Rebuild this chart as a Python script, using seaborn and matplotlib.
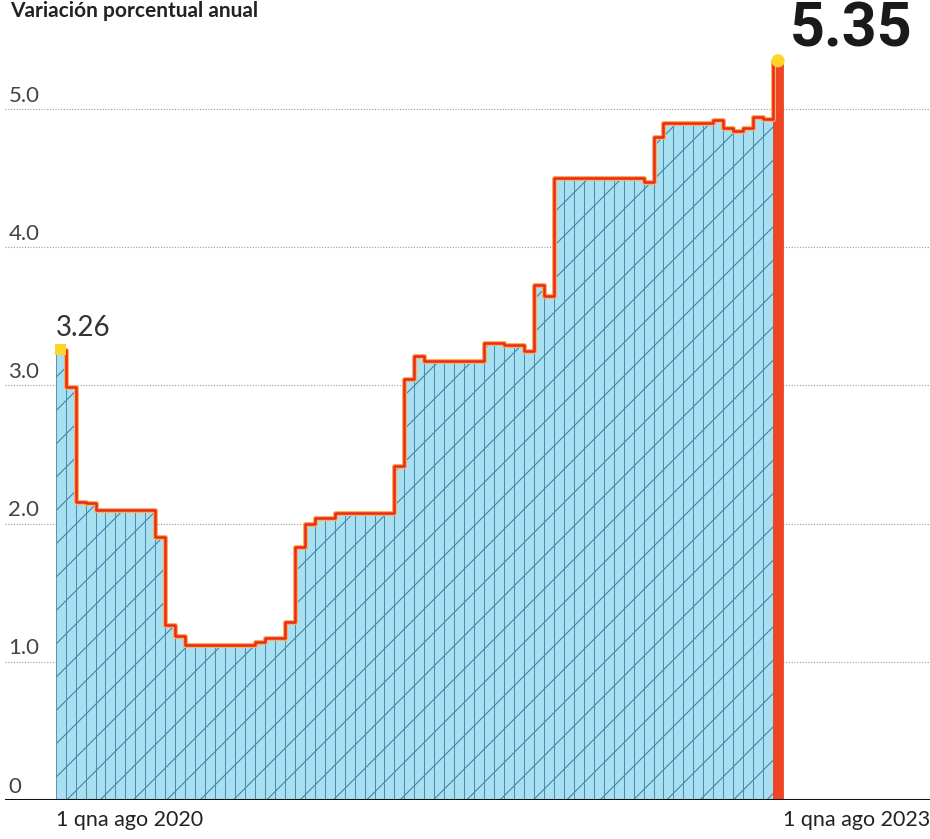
import numpy as np
import pandas as pd
import seaborn as sns
import matplotlib.pyplot as plt

# inflacion anual, quincenas desde 1 qna ago 2020 hasta 1 qna ago 2023
values = [3.26, 2.99, 2.16, 2.15, 2.10, 2.10, 2.10, 2.10, 2.10, 2.10,
          1.90, 1.27, 1.19, 1.12, 1.12, 1.12, 1.12, 1.12, 1.12, 1.12,
          1.14, 1.17, 1.17, 1.29, 1.83, 2.00, 2.04, 2.04, 2.08, 2.08,
          2.08, 2.08, 2.08, 2.08, 2.42, 3.05, 3.21, 3.18, 3.18, 3.18,
          3.18, 3.18, 3.18, 3.31, 3.31, 3.29, 3.29, 3.25, 3.73, 3.65,
          4.50, 4.50, 4.50, 4.50, 4.50, 4.50, 4.50, 4.50, 4.50, 4.47,
          4.80, 4.90, 4.90, 4.90, 4.90, 4.90, 4.92, 4.86, 4.84, 4.86,
          4.94, 4.93, 5.35]
yticks = [0, 1.0, 2.0, 3.0, 4.0, 5.0]
ytick_labels = ["0", "1.0", "2.0", "3.0", "4.0", "5.0"]
first_label = "1 qna ago 2020"
last_label = "1 qna ago 2023"
title = "Variación porcentual anual"

df = pd.DataFrame({"qna": np.arange(len(values)), "valor": values})
blue = "#a8dff1"
red = "#ee4526"
colors = [blue] * (len(values) - 1) + [red]

sns.set_style("white")
plt.rcParams["font.family"] = ["Lato", "DejaVu Sans"]
plt.rcParams["hatch.color"] = "#5ba4c6"
plt.rcParams["hatch.linewidth"] = 0.8

fig = plt.figure(figsize=(9.30, 8.39), dpi=100)
ax = fig.add_axes([0.005, 0.0465, 0.995, 0.9535])

bars = ax.bar(df["qna"], df["valor"], width=1.0, color=colors,
              edgecolor="#3f86a8", linewidth=0.6, zorder=2)
for b in bars[:-1]:
    b.set_hatch("/")
bars[-1].set_edgecolor(red)

sns.lineplot(data=df, x="qna", y="valor", ax=ax, color="#ffae55",
             linewidth=3.6, drawstyle="steps-mid", zorder=3)
sns.lineplot(data=df, x="qna", y="valor", ax=ax, color="#e52b1e",
             linewidth=1.8, drawstyle="steps-mid", zorder=4)
ax.scatter([df["qna"].iloc[0]], [df["valor"].iloc[0]], s=60, marker="s",
           color="#ffd42a", zorder=5, edgecolor="none")
ax.scatter([df["qna"].iloc[-1]], [df["valor"].iloc[-1]], s=90, marker="o",
           color="#ffd42a", zorder=5, edgecolor="none")

ax.set_xlim(-5.62, 87.25)
ax.set_ylim(0, 5.79)

for y in yticks[1:]:
    ax.axhline(y, color="#9a9a9a", linewidth=0.8, linestyle=(0, (1, 1.5)),
               zorder=1)
ax.axhline(0, color="#111111", linewidth=2.2, zorder=6)

trans = ax.get_yaxis_transform()
for y, lab in zip(yticks, ytick_labels):
    ax.text(0.004, y + 0.025, lab, transform=trans, ha="left", va="bottom",
            fontsize=16, color="#444444")

xtrans = ax.get_xaxis_transform()
ax.text(-0.5, -0.012, first_label, transform=xtrans, ha="left", va="top",
        fontsize=15.5, color="#222222")
ax.text(len(values) - 0.5, -0.012, last_label, transform=xtrans, ha="left",
        va="top", fontsize=15.5, color="#222222")

ax.text(-0.5, values[0] + 0.06, f"{values[0]:.2f}", ha="left", va="bottom",
        fontsize=20, color="#333333")
ax.text(len(values) + 0.2, values[-1] + 0.02, f"{values[-1]:.2f}",
        ha="left", va="bottom", fontsize=44, color="#1a1a1a",
        family=["Roboto", "DejaVu Sans"], fontweight="bold")

fig.text(0.011, 0.999, title, ha="left", va="top", fontsize=15,
         fontweight="bold", color="#222222")

ax.set_xticks([])
ax.set_yticks([])
ax.set_xlabel("")
ax.set_ylabel("")
sns.despine(ax=ax, left=True, bottom=True)

fig.savefig("out.png", dpi=100)
